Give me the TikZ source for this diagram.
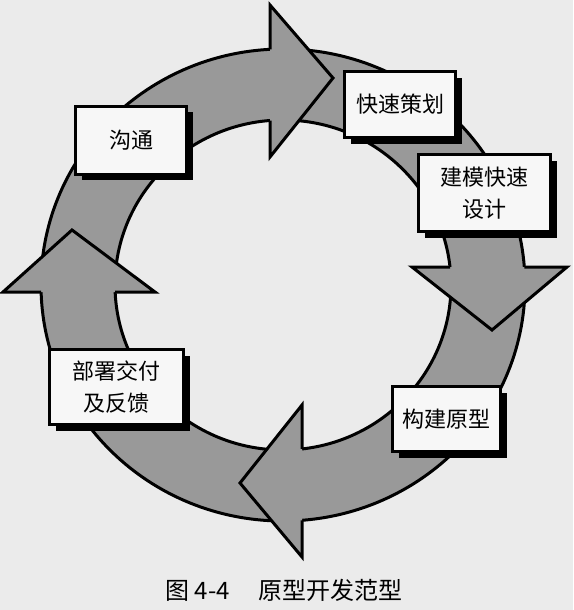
\documentclass[tikz,border=0pt]{standalone}
\usepackage{fontspec}
\newfontfamily\cjk{Noto Sans CJK SC}
\usepackage{tikz}
\usetikzlibrary{shadows,positioning}

\begin{document}
\begin{tikzpicture}[
    x=1pt, y=-1pt,
    box/.style={rectangle, draw=black, fill=black!3, line width=3pt, align=center, inner sep=0pt, font=\cjk\fontsize{22}{32}\selectfont, drop shadow={shadow xshift=6pt, shadow yshift=-6pt, fill=black, opacity=1}},
    ring/.style={fill=black!40, draw=none},
    edge/.style={draw=black, line width=3pt, line join=miter},
    head/.style={fill=black!40, draw=none},
    caption/.style={font=\cjk\fontsize{24}{24}\selectfont}
]

% Page
\fill[black!8] (0,0) rectangle (573,610);
\useasboundingbox (0,0) rectangle (573,610);

% Ring
\coordinate (c) at (283,285);
\fill[ring, even odd rule] (c) ellipse [x radius=242, y radius=236] (c) ellipse [x radius=168, y radius=165];
\draw[edge] (c) ellipse [x radius=242, y radius=236];
\draw[edge] (c) ellipse [x radius=168, y radius=165];

% Arrow heads
\fill[head] (270,5) -- (333,78) -- (270,157) -- cycle;
\draw[edge] (270,49.3) -- (270,5) -- (333,78) -- (270,157) -- (270,120.5);
\fill[head] (412,267) -- (492,330) -- (567,267) -- cycle;
\draw[edge] (450,267) -- (412,267) -- (492,330) -- (567,267) -- (524.3,267);
\fill[head] (302,405) -- (240,483) -- (302,557) -- cycle;
\draw[edge] (302,448.9) -- (302,405) -- (240,483) -- (302,557) -- (302,520.3);
\fill[head] (3,292) -- (72,230) -- (155,292) -- cycle;
\draw[edge] (41.1,292) -- (3,292) -- (72,230) -- (155,292) -- (115.2,292);

% Nodes
\node [box, minimum width=111pt, minimum height=68pt] (goutong) at (131,140) {沟通};
\node [box, minimum width=111pt, minimum height=66pt] (cehua) at (400,104.5) {快速策划};
\node [box, minimum width=132pt, minimum height=77pt] (sheji) at (484.5,193) {建模快速\\设计};
\node [box, minimum width=108pt, minimum height=65pt] (yuanxing) at (446.5,419) {构建原型};
\node [box, minimum width=134pt, minimum height=75pt] (jiaofu) at (116.5,387) {部署交付\\及反馈};

% Caption
\node [caption] (title) at (284,590) {图 4-4\hspace{1.2em}原型开发范型};

\end{tikzpicture}
\end{document}
